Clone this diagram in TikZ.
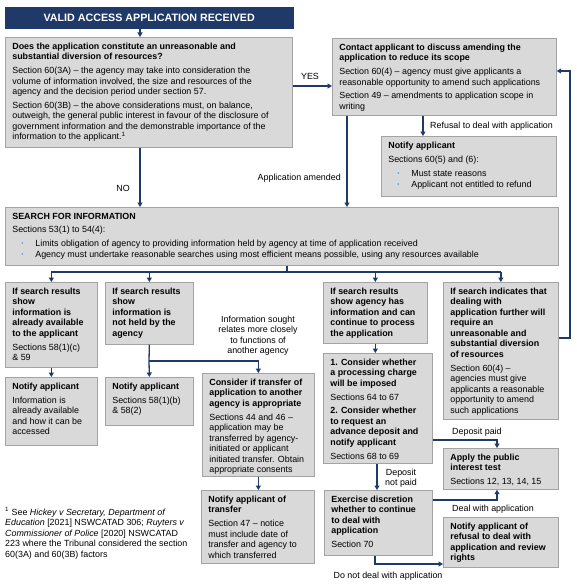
\documentclass[tikz,border=0pt]{standalone}
\usepackage{fontspec}
\setmainfont{Liberation Sans}
\usepackage{xcolor}
\usepackage{tikz}
\usetikzlibrary{arrows.meta}

\definecolor{navy}{HTML}{1F3A68}
\definecolor{boxfill}{HTML}{D9D9D9}
\definecolor{boxline}{HTML}{A3A3A3}
\definecolor{dotblue}{HTML}{4A90D9}

\newcommand{\boxfont}{\fontsize{8.9}{10.5}\selectfont}
\newcommand{\fbody}[3]{\parbox[t][#2pt][t]{#1pt}{\raggedright #3}}
\newcommand{\gap}{\\[3.3pt]}
\newcommand{\dotitem}{\hspace*{9pt}\makebox[14pt][l]{\textcolor{dotblue}{\raisebox{0.9pt}{\fontsize{6}{6}\selectfont\textbullet}}}}

\begin{document}
\begin{tikzpicture}[x=1pt, y=-1pt,
    flow/.style={draw=boxline, fill=boxfill, line width=0.7pt, anchor=north west,
        inner xsep=7pt, inner ysep=5.5pt, font=\boxfont},
    headbox/.style={draw=navy, fill=navy, text=white, anchor=north west, inner sep=0pt,
        minimum width=288pt, minimum height=21pt, font=\bfseries\fontsize{10.7}{12}\selectfont},
    tag/.style={inner sep=0pt, font=\boxfont},
    link/.style={draw=navy, line width=1.3pt},
    arr/.style={link, -{Triangle[length=4.5pt,width=5pt]}}]

    \useasboundingbox (0,0) rectangle (576,586);

    % boxes
    \node[headbox] (start) at (5,7) {VALID ACCESS APPLICATION RECEIVED};

    \node[flow] (resource) at (5,37) {\fbody{273}{99}{\textbf{Does the application constitute an unreasonable and\\ substantial diversion of resources?}\gap
        Section 60(3A) – the agency may take into consideration the\\ volume of information involved, the size and resources of the\\ agency and the decision period under section 57.\gap
        Section 60(3B) – the above considerations must, on balance,\\ outweigh, the general public interest in favour of the disclosure of\\ government information and the demonstrable importance of the\\ information to the applicant.\textsuperscript{1}}};

    \node[flow] (contact) at (332,38) {\fbody{210}{66}{\textbf{Contact applicant to discuss amending the\\ application to reduce its scope}\gap
        Section 60(4) – agency must give applicants a\\ reasonable opportunity to amend such applications\gap
        Section 49 – amendments to application scope in\\ writing}};

    \node[flow] (refuse) at (381,136) {\fbody{161}{49}{\textbf{Notify applicant}\gap
        Sections 60(5) and (6):\\[4pt]
        \dotitem Must state reasons\\
        \dotitem Applicant not entitled to refund}};

    \node[flow] (search) at (5,207) {\fbody{539}{47}{\textbf{SEARCH FOR INFORMATION}\gap
        Sections 53(1) to 54(4):\gap
        \dotitem Limits obligation of agency to providing information held by agency at time of application received\\
        \dotitem Agency must undertake reasonable searches using most efficient means possible, using any resources available}};

    \node[flow] (avail) at (5,282) {\fbody{78}{74}{\textbf{If search results\\ show\\ information is\\ already available\\ to the applicant}\gap
        Sections 58(1)(c)\\ \& 59}};
    \node[flow] (notheld) at (105,282) {\fbody{74}{51}{\textbf{If search results\\ show\\ information is\\ not held by the\\ agency}}};
    \node[flow] (hasinfo) at (323,282) {\fbody{90}{50}{\textbf{If search results\\ show agency has\\ information and can\\ continue to process\\ the application}}};
    \node[flow] (divert) at (443,282) {\fbody{101}{126}{\textbf{If search indicates that\\ dealing with\\ application further will\\ require an\\ unreasonable and\\ substantial diversion\\ of resources}\gap
        Section 60(4) –\\ agencies must give\\ applicants a reasonable\\ opportunity to amend\\ such applications}};

    \node[flow] (notifyavail) at (5,377) {\fbody{78}{57}{\textbf{Notify applicant}\gap
        Information is\\ already available\\ and how it can be\\ accessed}};
    \node[flow] (notifyheld) at (105,377) {\fbody{74}{37}{\textbf{Notify applicant}\gap
        Sections 58(1)(b)\\ \& 58(2)}};
    \node[flow] (transfer) at (202,373) {\fbody{98}{92}{\textbf{Consider if transfer of\\ application to another\\ agency is appropriate}\gap
        Sections 44 and 46 –\\ application may be\\ transferred by agency-\\ initiated or applicant\\ initiated transfer. Obtain\\ appropriate consents}};
    \node[flow] (notifymove) at (201,490) {\fbody{99}{62}{\textbf{Notify applicant of\\ transfer}\gap
        Section 47 – notice\\ must include date of\\ transfer and agency to\\ which transferred}};

    \node[flow] (charge) at (323,353) {\fbody{95}{99}{\textbf{1. Consider whether\\ a processing charge\\ will be imposed}\gap
        Sections 64 to 67\gap
        \textbf{2. Consider whether\\ to request an\\ advance deposit and\\ notify applicant}\gap
        Sections 68 to 69}};
    \node[flow] (public) at (443,448) {\fbody{101}{30}{\textbf{Apply the public\\ interest test}\gap
        Sections 12, 13, 14, 15}};
    \node[flow] (discretion) at (324,490) {\fbody{94}{54}{\textbf{Exercise discretion\\ whether to continue\\ to deal with\\ application}\gap
        Section 70}};
    \node[flow] (notifystop) at (443,517) {\fbody{101}{39}{\textbf{Notify applicant of\\ refusal to deal with\\ application and review\\ rights}}};

    % footnote
    \node[tag, anchor=north west, align=left] (footnote) at (5,507) {\textsuperscript{1} See \textit{Hickey v Secretary, Department of}\\
        \textit{Education} [2021] NSWCATAD 306; \textit{Ruyters v}\\
        \textit{Commissioner of Police} [2020] NSWCATAD\\
        223 where the Tribunal considered the section\\
        60(3A) and 60(3B) factors};

    % coordinates for the connectors
    \coordinate (trunk) at (140,0);
    \coordinate (yesrow) at (0,86);
    \coordinate (refusex) at (423,0);
    \coordinate (amendx) at (347,0);
    \coordinate (backx) at (570,0);
    \coordinate (backtop) at (0,71);
    \coordinate (backrow) at (0,338);
    \coordinate (split) at (287,272);
    \coordinate (fork) at (149,361);
    \coordinate (paidx) at (497,0);
    \coordinate (paidrow) at (0,440);
    \coordinate (dealrow) at (0,500);
    \coordinate (chargex) at (377,0);
    \coordinate (stopx) at (375,0);
    \coordinate (stoprow) at (0,564);

    % connectors
    \draw[arr] (start.south -| trunk) -- (resource.north -| trunk);
    \draw[arr] (resource.south -| trunk) -- (search.north -| trunk);
    \draw[arr] (resource.east |- yesrow) -- (contact.west |- yesrow);
    \draw[arr] (contact.south -| refusex) -- (refuse.north -| refusex);
    \draw[arr] (contact.south -| amendx) -- (search.north -| amendx);
    \draw[arr] (divert.east |- backrow) -- (backrow -| backx) -- (backtop -| backx) -- (contact.east |- backtop);

    \draw[link] (search.south -| split) -- (split);
    \draw[link] (split -| avail.north) -- (split -| divert.north);
    \foreach \b in {avail, notheld, hasinfo, divert}
        \draw[arr] (split -| \b.north) -- (\b.north);

    \draw[arr] (avail.south) -- (notifyavail.north);
    \draw[link] (notheld.south) -- (fork);
    \draw[arr] (fork) -- (notifyheld.north);
    \draw[arr] (fork) -- (fork -| transfer.north) -- (transfer.north);
    \draw[arr] (transfer.south) -- (transfer.south |- notifymove.north);

    \draw[arr] (hasinfo.south) -- (hasinfo.south |- charge.north);
    \draw[arr] (charge.east |- paidrow) -- (paidrow -| paidx) -- (public.north -| paidx);
    \draw[arr] (charge.south -| chargex) -- (discretion.north -| chargex);
    \draw[arr] (discretion.east |- dealrow) -- (dealrow -| paidx) -- (public.south -| paidx);
    \draw[arr] (discretion.south -| stopx) -- (stoprow -| stopx) -- (notifystop.west |- stoprow);

    % connector labels
    \node[tag] (nolabel) at (123,188) {NO};
    \node[tag] (yeslabel) at (310,76) {YES};
    \node[tag, anchor=west] (refuselabel) at (430,126) {Refusal to deal with application};
    \node[tag, anchor=east] (amendlabel) at (341,178) {Application amended};
    \node[tag, align=center, anchor=south] (agencylabel) at (258,356) {Information sought\\ relates more closely\\ to functions of\\ another agency};
    \node[tag, anchor=west] (paidlabel) at (452,432) {Deposit paid};
    \node[tag, align=center] (unpaidlabel) at (401,478) {Deposit\\ not paid};
    \node[tag, anchor=west] (deallabel) at (452,509) {Deal with application};
    \node[tag] (stoplabel) at (388,576) {Do not deal with application};
\end{tikzpicture}
\end{document}
